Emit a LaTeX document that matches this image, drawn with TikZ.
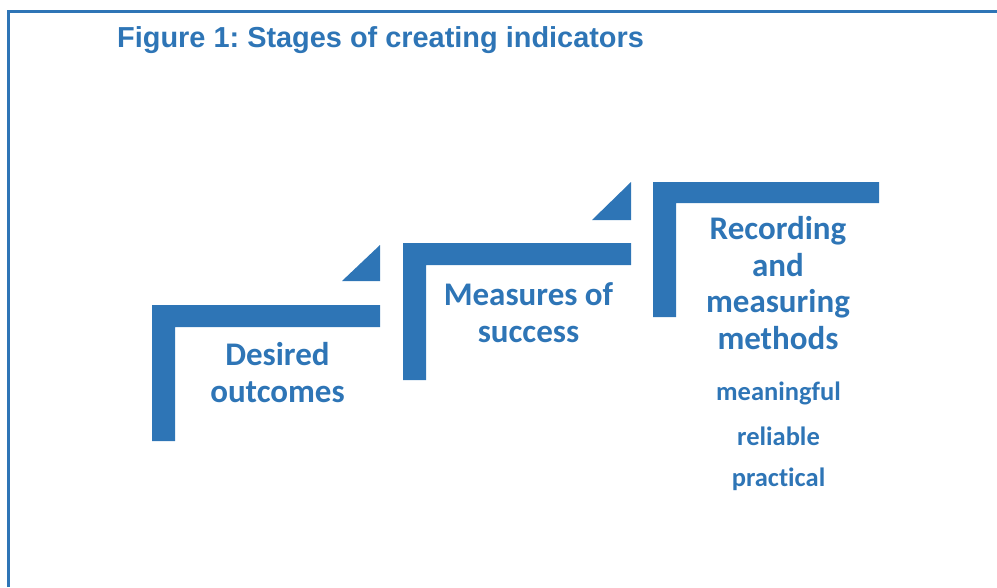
\documentclass[tikz,border=0pt]{standalone}
\usepackage{fontspec}
\setmainfont{Carlito}[Ligatures=NoCommon]
\newfontfamily\titlefont{Liberation Sans}
\definecolor{stageblue}{HTML}{2E75B6}
\frenchspacing
\begin{document}
\begin{tikzpicture}[x=1pt,y=-1pt,
  bracket/.style={fill=stageblue,draw=none},
  wedge/.style={fill=stageblue,draw=none},
  stagelabel/.style={anchor=base,text=stageblue,font=\fontsize{33}{37}\selectfont\bfseries,inner sep=0pt},
  criterion/.style={anchor=base,text=stageblue,font=\fontsize{26.5}{30}\selectfont\bfseries,inner sep=0pt}]
  \useasboundingbox (0,0) rectangle (997,587);
  % open frame: left and top edges
  \draw[stageblue,line width=3.5pt] (8.5,587) -- (8.5,11.5) -- (997,11.5);
  % title
  \node[anchor=base west,inner sep=0pt,text=stageblue,font=\titlefont\fontsize{28.9}{32}\selectfont\bfseries]
    (title) at (117,47.5) {Figure 1: Stages of creating indicators};
  % stage 1
  \fill[bracket] (152,305) -- (380,305) -- (380,327) -- (175,327) -- (175,441) -- (152,441) -- cycle;
  \fill[wedge] (342,281) -- (380,281) -- (380,245) -- cycle;
  \node[stagelabel] (s1a) at (277.5,365) {Desired};
  \node[stagelabel] (s1b) at (277.5,402) {outcomes};
  % stage 2
  \fill[bracket] (403,243) -- (631,243) -- (631,265) -- (426,265) -- (426,380) -- (403,380) -- cycle;
  \fill[wedge] (592,220) -- (631,220) -- (631,182) -- cycle;
  \node[stagelabel] (s2a) at (528.5,305) {Measures of};
  \node[stagelabel] (s2b) at (528.5,342) {success};
  % stage 3
  \fill[bracket] (653,182) -- (879,182) -- (879,203) -- (676,203) -- (676,317) -- (653,317) -- cycle;
  \node[stagelabel] (s3a) at (778,239) {Recording};
  \node[stagelabel] (s3b) at (778,276) {and};
  \node[stagelabel] (s3c) at (778,312.5) {measuring};
  \node[stagelabel] (s3d) at (778,349) {methods};
  \node[criterion] (c1) at (778.5,400) {meaningful};
  \node[criterion] (c2) at (778.5,445) {reliable};
  \node[criterion] (c3) at (778.5,486) {practical};
\end{tikzpicture}
\end{document}
